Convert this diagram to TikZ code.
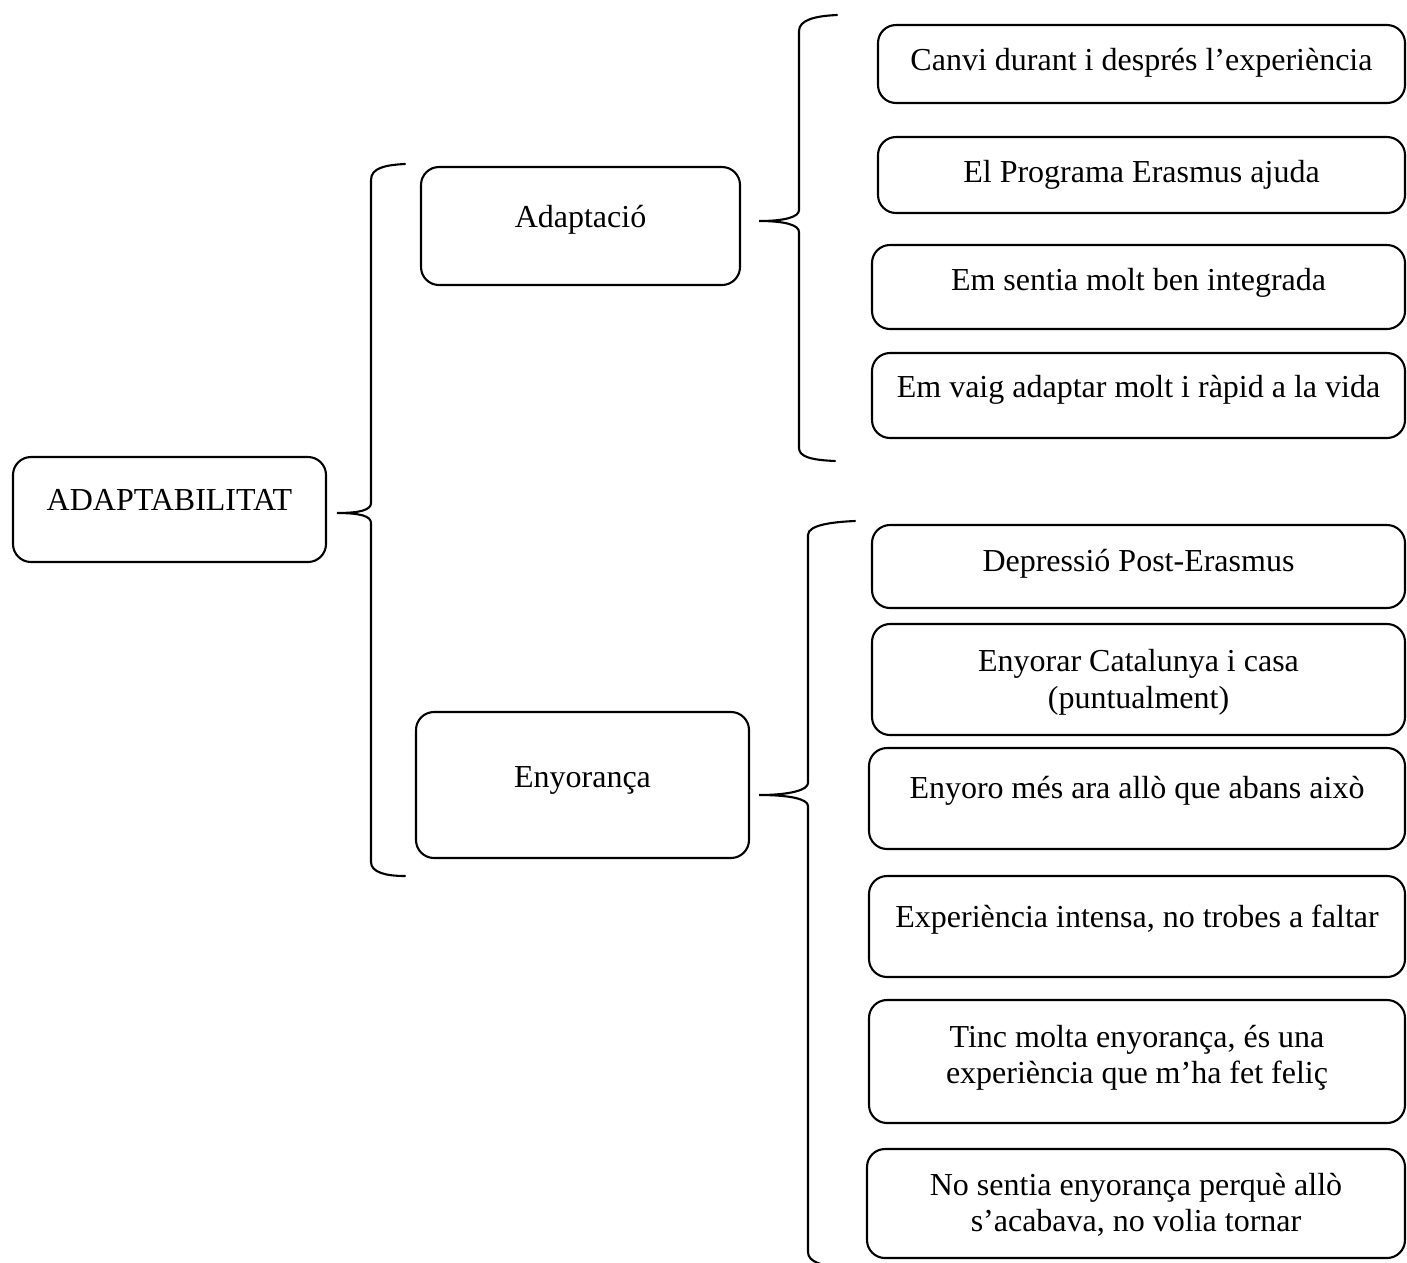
\documentclass[tikz,border=0pt]{standalone}
\usepackage{fontspec}
\setmainfont{Liberation Serif}
\begin{document}
\begin{tikzpicture}[x=1pt,y=-1pt,
  box/.style={draw, line width=2.1pt, rounded corners=18pt, inner sep=0pt},
  txt/.style={anchor=base, inner sep=0pt, font=\fontsize{32}{37}\selectfont},
  brace/.style={line width=2.1pt, line cap=round}]
\useasboundingbox (0,0) rectangle (1407,1262);
\clip (0,0) rectangle (1407,1262);
\newcommand\bx[5]{\node[box, minimum width={(#4-#2)*1pt}, minimum height={(#5-#3)*1pt}] (#1) at ({(#2+#4)/2},{(#3+#5)/2}) {};}
% level 0
\bx{root}{13}{457}{326}{562}
\node[txt] (troot) at (root.center |- 0,510) {ADAPTABILITAT};
% level 1
\bx{adap}{421}{167}{740}{285}
\node[txt] (tadap) at (adap.center |- 0,227) {Adaptació};
\bx{enyo}{416}{712}{749}{858}
\node[txt] (tenyo) at (enyo.center |- 0,787) {Enyorança};
% adaptació items
\bx{a1}{878}{25}{1405}{103}
\node[txt] (ta1) at (a1.center |- 0,70) {Canvi durant i després l’experiència};
\bx{a2}{878}{137}{1405}{213}
\node[txt] (ta2) at (a2.center |- 0,182) {El Programa Erasmus ajuda};
\bx{a3}{872}{245}{1405}{329}
\node[txt] (ta3) at (a3.center |- 0,290) {Em sentia molt ben integrada};
\bx{a4}{872}{353}{1405}{438}
\node[txt] (ta4) at (a4.center |- 0,397) {Em vaig adaptar molt i ràpid a la vida};
% enyorança items
\bx{e1}{872}{525}{1405}{608}
\node[txt] (te1) at (e1.center |- 0,571) {Depressió Post-Erasmus};
\bx{e2}{872}{624}{1405}{735}
\node[txt] (te2a) at (e2.center |- 0,671) {Enyorar Catalunya i casa};
\node[txt] (te2b) at (e2.center |- 0,708) {(puntualment)};
\bx{e3}{869}{748}{1405}{849}
\node[txt] (te3) at (e3.center |- 0,798) {Enyoro més ara allò que abans això};
\bx{e4}{869}{876}{1405}{977}
\node[txt] (te4) at (e4.center |- 0,927) {Experiència intensa, no trobes a faltar};
\bx{e5}{869}{1000}{1405}{1123}
\node[txt] (te5a) at (e5.center |- 0,1047) {Tinc molta enyorança, és una};
\node[txt] (te5b) at (e5.center |- 0,1083) {experiència que m’ha fet feliç};
\bx{e6}{867}{1149}{1405}{1258}
\node[txt] (te6a) at (e6.center |- 0,1195) {No sentia enyorança perquè allò};
\node[txt] (te6b) at (e6.center |- 0,1231) {s’acabava, no volia tornar};
% braces
\coordinate (br1tip) at (337,513);
\coordinate (br2tip) at (759,221);
\coordinate (br3tip) at (759,795);
\draw[brace] (405,164) .. controls (385,165) and (371,168) .. (371,180) -- (371,503)
  .. controls (371,510) and (360,513) .. (br1tip)
  .. controls (360,513) and (371,516) .. (371,523) -- (371,862)
  .. controls (371,872) and (385,876) .. (405,876);
\draw[brace] (837,15) .. controls (815,16) and (799,20) .. (799,31) -- (799,210)
  .. controls (799,217) and (785,221) .. (br2tip)
  .. controls (785,221) and (799,225) .. (799,232) -- (799,448)
  .. controls (799,457) and (812,460) .. (835,461);
\draw[brace] (855,521) .. controls (832,522) and (808,525) .. (808,535) -- (808,783)
  .. controls (808,790) and (790,795) .. (br3tip)
  .. controls (790,795) and (808,799) .. (808,806) -- (808,1252)
  .. controls (808,1262) and (822,1266) .. (845,1268);
\end{tikzpicture}
\end{document}
